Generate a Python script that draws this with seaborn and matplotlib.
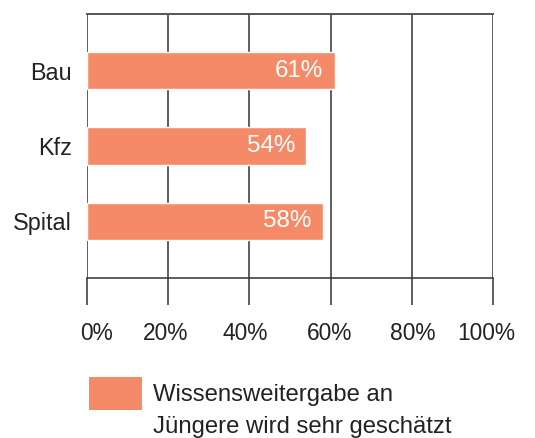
import pandas as pd
import matplotlib
matplotlib.use("Agg")
import matplotlib.pyplot as plt
import matplotlib.patches as mpatches
import matplotlib.transforms as mtransforms
import seaborn as sns

# Daten
bereiche = ["Bau", "Kfz", "Spital"]
anteile = [61, 54, 58]
x_ticks = [0, 20, 40, 60, 80, 100]
legende_zeilen = ["Wissensweitergabe an", "Jüngere wird sehr geschätzt"]

farbe = "#F58A69"
linie = "#333333"

sns.set_style("white")
plt.rcParams["font.family"] = ["Liberation Sans", "DejaVu Sans"]

df = pd.DataFrame({"bereich": bereiche, "anteil": anteile})

fig = plt.figure(figsize=(5.35, 4.38), dpi=100)
ax = fig.add_axes([0.1626, 0.3653, 0.759, 0.6027])

sns.barplot(data=df, x="anteil", y="bereich", orient="h", color=farbe,
            saturation=1, width=0.5, ax=ax, zorder=3)

ax.set_xlim(0, 100)
ax.set_ylim(2.75, -0.75)
ax.set_xticks(x_ticks)
ax.set_xticklabels([f"{t}%" for t in x_ticks])
ax.set_xlabel("")
ax.set_ylabel("")

# vertikale Gitterlinien
for t in x_ticks:
    ax.axvline(t, color=linie, lw=1.1, zorder=1)

for s in ["left", "right", "bottom", "top"]:
    ax.spines[s].set_visible(s in ("bottom", "top"))
ax.spines["bottom"].set_color(linie)
ax.spines["top"].set_color("#555555")
ax.spines["bottom"].set_linewidth(1.1)
ax.spines["top"].set_linewidth(1.4)

ax.tick_params(axis="x", bottom=True, direction="out", length=19.5, width=1.1,
               color=linie, pad=12, labelsize=16.4, labelcolor="#222222")
ax.tick_params(axis="y", left=False, length=0, pad=10.8, labelsize=16.8,
               labelcolor="#222222")

# kleine Verschiebungen der Achsenbeschriftung wie im Original (Pixel)
verschiebung = [10, -3, -4, -1.5, 1, -6.5]
for lab, dx in zip(ax.get_xticklabels(), verschiebung):
    lab.set_transform(lab.get_transform() +
                      mtransforms.ScaledTranslation(dx / 100, 0, fig.dpi_scale_trans))

# Werte in den Balken
for i, v in enumerate(anteile):
    ax.text(v - 2.8, i, f"{v}%", ha="right", va="center", color="white",
            fontsize=17.4, zorder=4)

# Legende (Farbfeld + zweizeiliger Text)
fig.add_artist(mpatches.Rectangle((89 / 535, 1 - 410 / 438), 53 / 535, 33 / 438,
                                  transform=fig.transFigure, color=farbe,
                                  lw=0))
fig.text(153 / 535, 1 - 401 / 438, legende_zeilen[0], ha="left", va="baseline",
         fontsize=17.2, color="#222222")
fig.text(153 / 535, 1 - 433 / 438, legende_zeilen[1], ha="left", va="baseline",
         fontsize=17.2, color="#222222")

fig.savefig("out.png", dpi=100)
